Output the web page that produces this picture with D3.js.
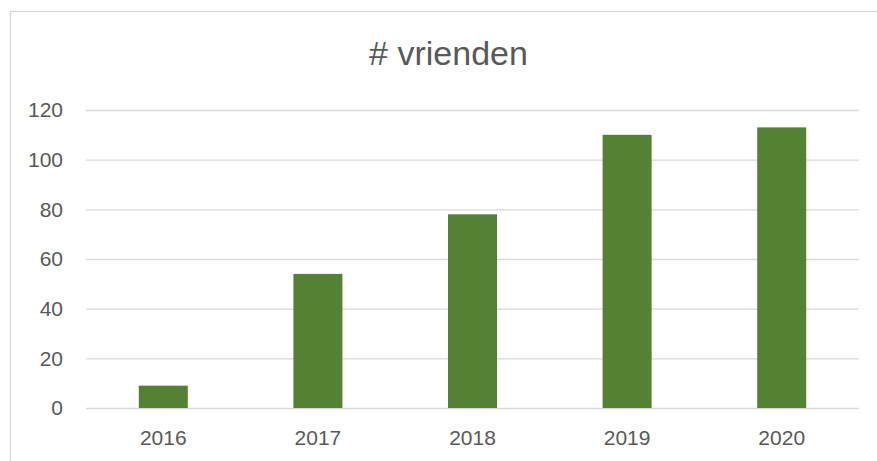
<!DOCTYPE html>
<html>
<head>
<meta charset="utf-8">
<script src="https://cdn.jsdelivr.net/npm/d3@7"></script>
<style>
  html, body { margin: 0; padding: 0; background: #fff; }
  svg { display: block; font-family: 'Liberation Sans', Arial, sans-serif; }
</style>
</head>
<body>
<svg id="chart" width="877" height="461"></svg>
<script>
const YEARS = ['2016', '2017', '2018', '2019', '2020'];
const FRIENDS = [9, 54, 78, 110, 113];
const Y_TICKS = [0, 20, 40, 60, 80, 100, 120];
const TITLE = '# vrienden';

const MARGIN = { top: 110, right: 18, bottom: 53, left: 86 };
const W = 877, H = 461;
const BAR = '#548235';
const GRID = '#d9d9d9';
const TEXT = '#595959';

const svg = d3.select('#chart');

// chart border (box extends past the picture on right/bottom)
svg.append('rect')
  .attr('x', 10.5).attr('y', 11.5)
  .attr('width', W + 20).attr('height', H + 20)
  .attr('fill', 'none')
  .attr('stroke', GRID)
  .attr('stroke-width', 1.3);

const x = d3.scaleBand()
  .domain(YEARS)
  .range([MARGIN.left, W - MARGIN.right])
  .paddingInner(0.683)
  .paddingOuter(0.683 / 2);

const y = d3.scaleLinear()
  .domain([0, 120])
  .range([H - MARGIN.bottom, MARGIN.top]);

// gridlines + y labels
const yAxis = svg.append('g')
  .attr('transform', `translate(${MARGIN.left},0)`)
  .call(d3.axisLeft(y).tickValues(Y_TICKS).tickSize(-(W - MARGIN.left - MARGIN.right)).tickPadding(23));
yAxis.select('.domain').remove();
yAxis.selectAll('.tick line').attr('stroke', GRID).attr('stroke-width', 1.3);
yAxis.selectAll('.tick text')
  .attr('fill', TEXT)
  .style('font-size', '21px')
  .style('font-family', "'Liberation Sans', Arial, sans-serif");

// bars
svg.append('g')
  .selectAll('rect')
  .data(YEARS.map((yr, i) => ({ yr, v: FRIENDS[i] })))
  .join('rect')
  .attr('x', d => x(d.yr))
  .attr('y', d => y(d.v))
  .attr('width', x.bandwidth())
  .attr('height', d => y(0) - y(d.v))
  .attr('fill', BAR);

// x labels
const xAxis = svg.append('g')
  .attr('transform', `translate(0,${y(0)})`)
  .call(d3.axisBottom(x).tickSize(0).tickPadding(22));
xAxis.select('.domain').remove();
xAxis.selectAll('.tick text')
  .attr('fill', TEXT)
  .style('font-size', '21px')
  .style('font-family', "'Liberation Sans', Arial, sans-serif");

// title
svg.append('text')
  .attr('x', (MARGIN.left + W - MARGIN.right) / 2 - 24)
  .attr('y', 65)
  .attr('text-anchor', 'middle')
  .attr('fill', TEXT)
  .style('font-size', '34px')
  .text(TITLE);
</script>
</body>
</html>
